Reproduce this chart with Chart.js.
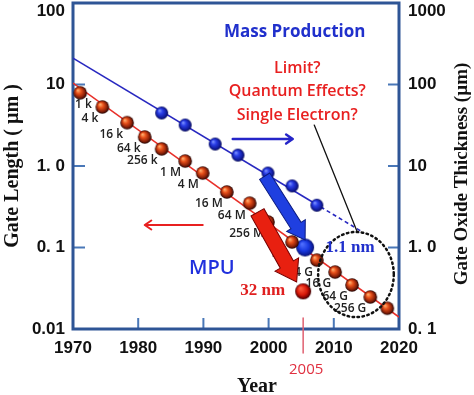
<!DOCTYPE html>
<html><head><meta charset="utf-8">
<script src="https://cdn.jsdelivr.net/npm/chart.js@4.4.0/dist/chart.umd.min.js"></script>
<style>html,body{margin:0;padding:0;background:#fff;}#wrap{width:474px;height:395px;position:relative;}</style>
</head><body><div id="wrap"><canvas id="c"></canvas></div>
<script>
// ---- data ----
const dramYears = [1971.1, 1974.5, 1978.3, 1981.0, 1983.6, 1987.2, 1989.9, 1993.6, 1997.1, 1999.9, 2003.6, 2007.4, 2010.2, 2012.8, 2015.6, 2018.2];
const gateLength = [7.9, 5.3, 3.4, 2.27, 1.62, 1.15, 0.82, 0.48, 0.35, 0.206, 0.117, 0.070, 0.050, 0.0347, 0.0247, 0.018];
const dramLabels = ['1 k','4 k','16 k','64 k','256 k','1 M','4 M','16 M','64 M','256 M','1 G','4 G','16 G','64 G','256 G',''];
const oxideYears = [1983.6, 1987.2, 1991.8, 1995.3, 1999.9, 2003.6, 2007.4];
const oxideThickness = [44.7, 31.8, 18.6, 13.6, 8.2, 5.7, 3.3];
const gateTrendYears = [1970, 2020];
const gateTrendValues = [10.4, 0.014];
const oxideTrendYears = [1970, 2008, 2014.4];
const oxideTrendValues = [211, 3.14, 1.55];
const mpuYears = [2005.3];
const mpuGate = [0.029];
const oxide2005Years = [2005.6];
const oxide2005Values = [1.0];
const xTickValues = [1970, 1980, 1990, 2000, 2010, 2020];
const leftTickValues = [100, 10, 1, 0.1, 0.01];
const leftTickLabels = ['100', '10', '1. 0', '0. 1', '0.01'];
const rightTickValues = [1000, 100, 10, 1, 0.1];
const rightTickLabels = ['1000', '100', '10', '1. 0', '0. 1'];

const pairs = (xs, ys) => xs.map((x, i) => ({x, y: ys[i]}));

function makeBall(r, stops) {
  const s = Math.ceil(r * 2) + 2;
  const c = document.createElement('canvas'); c.width = s; c.height = s;
  const g = c.getContext('2d'); const cx = s / 2, cy = s / 2;
  const grad = g.createRadialGradient(cx - r * 0.35, cy - r * 0.4, r * 0.05, cx, cy, r);
  stops.forEach(([o, col]) => grad.addColorStop(o, col));
  g.fillStyle = grad; g.beginPath(); g.arc(cx, cy, r, 0, Math.PI * 2); g.fill();
  return c;
}
const redBall = makeBall(6.8, [[0, '#ffb070'], [0.35, '#e8501a'], [0.75, '#8a2008'], [1, '#200404']]);
const blueBall = makeBall(6.5, [[0, '#8095ff'], [0.35, '#2a3ee8'], [0.8, '#101a9a'], [1, '#050850']]);
const bigBlue = makeBall(9, [[0, '#5070ff'], [0.55, '#1838e0'], [0.9, '#0c1a90'], [1, '#081060']]);
const bigRed = makeBall(8, [[0, '#ff6040'], [0.6, '#d81808'], [0.88, '#700'], [1, '#300']]);

function thickArrow(ctx, x1, y1, x2, y2, sw, hw, hl, fill, stroke) {
  const a = Math.atan2(y2 - y1, x2 - x1), len = Math.hypot(x2 - x1, y2 - y1);
  ctx.save(); ctx.translate(x1, y1); ctx.rotate(a);
  ctx.beginPath();
  ctx.moveTo(0, -sw / 2); ctx.lineTo(len - hl, -sw / 2); ctx.lineTo(len - hl, -hw / 2);
  ctx.lineTo(len, 0); ctx.lineTo(len - hl, hw / 2); ctx.lineTo(len - hl, sw / 2); ctx.lineTo(0, sw / 2);
  ctx.closePath(); ctx.fillStyle = fill; ctx.fill();
  ctx.lineWidth = 1; ctx.strokeStyle = stroke; ctx.stroke();
  ctx.restore();
}
function thinArrow(ctx, x1, y1, x2, y2, color, w) {
  const a = Math.atan2(y2 - y1, x2 - x1);
  ctx.save(); ctx.strokeStyle = color; ctx.lineWidth = w; ctx.lineCap = 'round'; ctx.lineJoin = 'round';
  ctx.beginPath(); ctx.moveTo(x1, y1); ctx.lineTo(x2, y2);
  ctx.moveTo(x2 - 8 * Math.cos(a - 0.6), y2 - 8 * Math.sin(a - 0.6)); ctx.lineTo(x2, y2);
  ctx.lineTo(x2 - 8 * Math.cos(a + 0.6), y2 - 8 * Math.sin(a + 0.6));
  ctx.stroke(); ctx.restore();
}

const framePlugin = {
  id: 'frame',
  beforeDatasetsDraw(chart) {
    const {ctx, chartArea: ca, scales} = chart;
    ctx.save();
    ctx.strokeStyle = '#4a78b8'; ctx.lineWidth = 2;
    ctx.beginPath();
    [10, 1, 0.1].forEach(v => { const y = scales.y.getPixelForValue(v); ctx.moveTo(ca.left, y); ctx.lineTo(ca.left + 12, y); });
    [100, 10, 1].forEach(v => { const y = scales.y1.getPixelForValue(v); ctx.moveTo(ca.right, y); ctx.lineTo(ca.right - 11, y); });
    [1980, 1990, 2000, 2010].forEach(v => { const x = scales.x.getPixelForValue(v); ctx.moveTo(x, ca.bottom); ctx.lineTo(x, ca.bottom - 11); });
    ctx.stroke();
    ctx.strokeStyle = '#2e5596'; ctx.lineWidth = 3;
    ctx.strokeRect(ca.left, ca.top, ca.right - ca.left, ca.bottom - ca.top);
    ctx.restore();
  }
};

const annotPlugin = {
  id: 'annot',
  afterDatasetsDraw(chart) {
    const {ctx, chartArea: ca, scales} = chart;
    const X = v => scales.x.getPixelForValue(v);
    const Y = v => scales.y.getPixelForValue(v);
    ctx.save();
    // memory labels
    ctx.font = '600 12px "Open Sans"'; ctx.fillStyle = '#222'; ctx.textAlign = 'right'; ctx.textBaseline = 'middle';
    chart.getDatasetMeta(0).data.forEach((pt, i) => {
      const t = dramLabels[i]; if (!t) return;
      const w = ctx.measureText(t).width;
      let x = pt.x - 4; if (x - w < ca.left + 2) x = ca.left + 2 + w;
      ctx.fillText(t, x, pt.y + 12);
    });
    // dotted circle
    const cx1 = X(2007.6), cx2 = X(2019.2), cy1 = Y(0.155), cy2 = Y(0.014);
    ctx.beginPath();
    ctx.ellipse((cx1 + cx2) / 2, (cy1 + cy2) / 2, (cx2 - cx1) / 2, (cy2 - cy1) / 2, 0, 0, Math.PI * 2);
    ctx.setLineDash([1.5, 3.5]); ctx.lineCap = 'round'; ctx.lineWidth = 2.5; ctx.strokeStyle = '#111'; ctx.stroke();
    ctx.setLineDash([]);
    // black pointer line
    ctx.beginPath(); ctx.moveTo(X(2007.0), Y(3.18)); ctx.lineTo(X(2013.6), Y(0.155));
    ctx.lineWidth = 1.3; ctx.strokeStyle = '#111'; ctx.stroke();
    // thin arrows
    thinArrow(ctx, X(1994.5), Y(2.14), X(2003.7), Y(2.14), '#2525c8', 2.5);
    thinArrow(ctx, X(1989.9), Y(0.189), X(1981.0), Y(0.189), '#e82020', 2);
    // thick arrows
    thickArrow(ctx, X(1999.4), Y(0.75), X(2005.6), Y(0.124), 12, 22, 17, '#1f3fe0', '#0a1a80');
    thickArrow(ctx, X(1998.3), Y(0.27), X(2004.3), Y(0.0378), 15, 27, 20, '#e82010', '#700');
    // texts
    ctx.textAlign = 'center'; ctx.textBaseline = 'middle';
    ctx.font = 'bold 17px "Open Sans"'; ctx.fillStyle = '#2030cc';
    ctx.fillText('Mass Production', X(2004.0), Y(44));
    ctx.font = '600 16px "Open Sans"'; ctx.fillStyle = '#e82020';
    ctx.fillText('Limit?', X(2004.4), Y(15.9));
    ctx.fillText('Quantum Effects?', X(2004.4), Y(8.3));
    ctx.fillText('Single Electron?', X(2004.4), Y(4.2));
    ctx.font = '600 20px "Open Sans"'; ctx.fillStyle = '#2030dd';
    ctx.fillText('MPU', X(1991.3), Y(0.056));
    ctx.font = 'bold 17px "Liberation Serif"'; ctx.fillStyle = '#e02020';
    ctx.fillText('32 nm', X(1999.1), Y(0.030));
    ctx.fillStyle = '#2030cc';
    ctx.fillText('1.1 nm', X(2012.5), Y(0.0986));
    // 2005 marker below axis
    const x05 = X(2005.3);
    ctx.beginPath(); ctx.moveTo(x05, ca.bottom - 11); ctx.lineTo(x05, ca.bottom + 24);
    ctx.strokeStyle = '#e06070'; ctx.lineWidth = 1.5; ctx.stroke();
    ctx.font = '15px "Open Sans"'; ctx.fillStyle = '#e03040';
    ctx.fillText('2005', x05 + 3, ca.bottom + 41);
    // axis titles drawn manually (bottom and right)
    ctx.font = 'bold 20px "Liberation Serif"'; ctx.fillStyle = '#111';
    ctx.fillText('Year', 257, ca.bottom + 58);
    ctx.save(); ctx.translate(462, (ca.top + ca.bottom) / 2 + 8); ctx.rotate(-Math.PI / 2);
    ctx.font = 'bold 19px "Liberation Serif"';
    ctx.fillText('Gate Oxide Thickness (µm)', 0, 0);
    ctx.restore();
    ctx.restore();
  }
};

const tickFont = {family: '"Liberation Sans", Arial', size: 17, weight: 'bold', lineHeight: 1.0};
const noPad = s => { s.paddingTop = 0; s.paddingBottom = 0; s.paddingLeft = 0; s.paddingRight = 0; };

new Chart(document.getElementById('c'), {
  type: 'scatter',
  data: {
    datasets: [
      {data: pairs(dramYears, gateLength), yAxisID: 'y', pointStyle: redBall, pointRadius: 7, order: 0},
      {data: pairs(oxideYears, oxideThickness), yAxisID: 'y1', pointStyle: blueBall, pointRadius: 7, order: 0},
      {data: pairs(mpuYears, mpuGate), yAxisID: 'y', pointStyle: bigRed, pointRadius: 8, order: 0},
      {data: pairs(oxide2005Years, oxide2005Values), yAxisID: 'y1', pointStyle: bigBlue, pointRadius: 9, order: 0},
      {data: pairs(gateTrendYears, gateTrendValues), yAxisID: 'y', showLine: true, pointRadius: 0,
       borderColor: '#e8302a', borderWidth: 1.6, order: 1},
      {data: pairs(oxideTrendYears, oxideTrendValues), yAxisID: 'y1', showLine: true, pointRadius: 0,
       borderColor: '#2828c0', borderWidth: 1.6, order: 1,
       segment: {borderDash: c => c.p0DataIndex === 1 ? [4, 3] : undefined}}
    ]
  },
  options: {
    responsive: true, maintainAspectRatio: false, animation: false,
    layout: {autoPadding: false, padding: {top: 3, left: 0, right: 0, bottom: 0}},
    plugins: {legend: {display: false}, tooltip: {enabled: false}},
    scales: {
      x: {
        type: 'linear', min: 1970, max: 2020,
        afterBuildTicks: s => { s.ticks = xTickValues.map(v => ({value: v})); },
        afterFit: s => { s.height = 66; noPad(s); },
        grid: {display: false, drawTicks: false}, border: {display: false},
        ticks: {font: {family: '"Liberation Sans", Arial', size: 17, weight: 'bold'}, color: '#111', padding: 9, maxRotation: 0,
          callback: v => String(v)}
      },
      y: {
        type: 'logarithmic', position: 'left', min: 0.01, max: 100,
        afterBuildTicks: s => { s.ticks = leftTickValues.map(v => ({value: v})); },
        afterFit: s => { s.width = 73; noPad(s); },
        grid: {display: false, drawTicks: false}, border: {display: false},
        ticks: {font: tickFont, color: '#111', padding: 8,
          callback: (v) => { const i = leftTickValues.indexOf(v); const t = leftTickLabels[i]; return i === 0 ? ['', t] : t; }},
        title: {display: true, text: 'Gate Length ( µm )', color: '#111', padding: {top: 1, bottom: 0},
          font: {family: '"Liberation Serif"', size: 20, weight: 'bold'}}
      },
      y1: {
        type: 'logarithmic', position: 'right', min: 0.1, max: 1000,
        afterBuildTicks: s => { s.ticks = rightTickValues.map(v => ({value: v})); },
        afterFit: s => { s.width = 75; noPad(s); },
        grid: {display: false, drawTicks: false}, border: {display: false},
        ticks: {font: tickFont, color: '#111', padding: 9,
          callback: (v) => { const i = rightTickValues.indexOf(v); const t = rightTickLabels[i]; return i === 0 ? ['', t] : t; }}
      }
    }
  },
  plugins: [framePlugin, annotPlugin]
});
</script></body></html>
